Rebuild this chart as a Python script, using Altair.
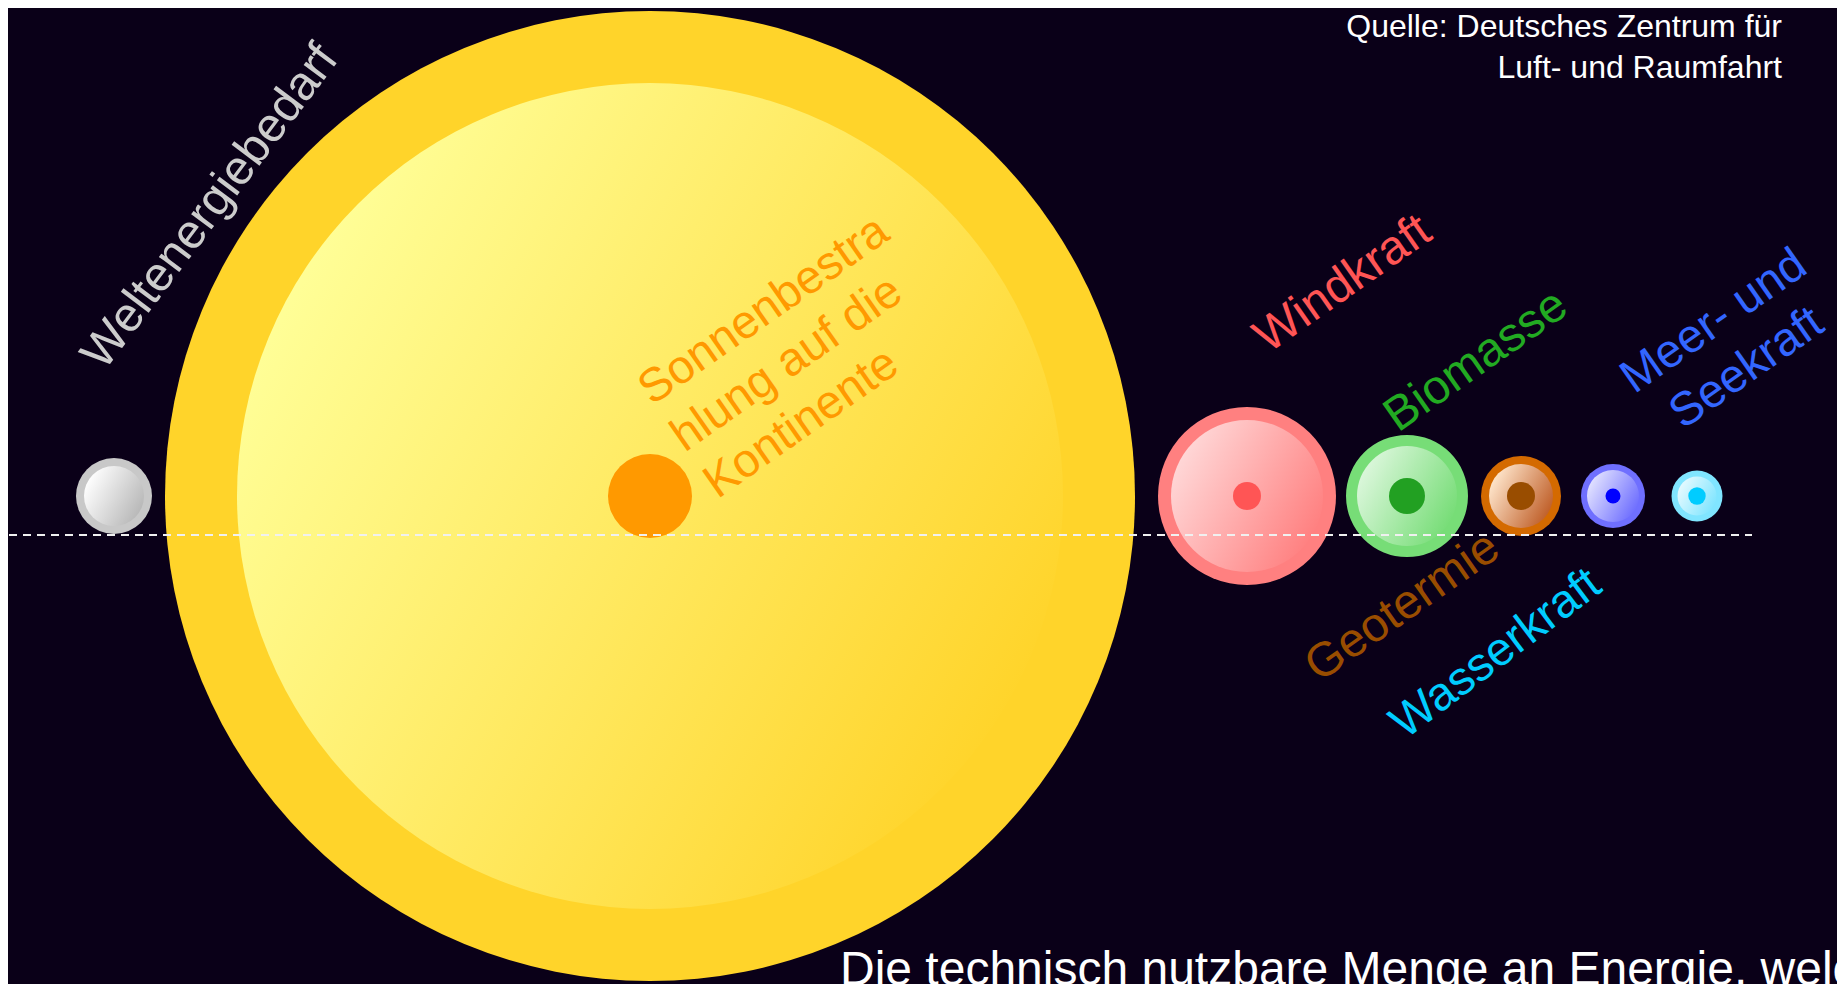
import altair as alt
import pandas as pd

# ---------------- data ----------------
bubble_names = ["Weltenergiebedarf", "Sonnenbestrahlung", "Windkraft", "Biomasse",
                "Geotermie", "Meer- und Seekraft", "Wasserkraft"]
center_x = [114, 650, 1247, 1407, 1521, 1613, 1697]
center_y = [496, 496, 496, 496, 496, 496, 496]
outer_r = [38, 485, 89, 61, 40, 32, 25.5]
inner_r = [30, 413, 76, 50, 32, 26, 19.5]
dot_r = [0, 42, 14, 18, 14, 7.5, 8.7]
ring_color = ["#c8c8c8", "#ffd42a", "#ff8080", "#77dd77", "#d46a00", "#6f6fff", "#80e5ff"]
light_color = ["#ffffff", "#ffff99", "#ffd8d8", "#dcf7dc", "#ffe6cc", "#e2e2ff", "#e6faff"]
dark_color = ["#b8b8b8", "#ffd42a", "#ff8080", "#77dd77", "#c0602a", "#6f6fff", "#80e5ff"]
dot_color = ["#ffffff", "#ff9900", "#ff5555", "#22a022", "#994d00", "#0000ff", "#00ccff"]

label_lines = [["Weltenergiebedarf"], ["Sonnenbestra", "hlung auf die", "Kontinente"],
               ["Windkraft"], ["Biomasse"], ["Geotermie"], ["Meer- und", "Seekraft"],
               ["Wasserkraft"]]
label_x = [104, 652, 1268, 1398, 1319, 1722, 1405]
label_y = [372, 406, 354, 433, 683, 333, 740]
label_angle = [307, 325, 325, 325, 325, 325, 323]
label_size = [48, 47, 48, 48, 48, 47, 47]
label_align = ["left", "left", "left", "left", "left", "center", "left"]
label_color = ["#cccccc", "#ff9900", "#ff5555", "#22aa22", "#994d00", "#3366ff", "#00ccff"]

source_lines = ["Quelle: Deutsches Zentrum für", "Luft- und Raumfahrt"]
bottom_text = "Die technisch nutzbare Menge an Energie, welche"

guide_x = [9]
guide_x2 = [1752]
guide_y = [535]

# ---------------- chart ----------------
W, H = 1829, 976
xs = alt.Scale(domain=[8, 8 + W], range=[0, W], nice=False, zero=False)
ys = alt.Scale(domain=[8, 8 + H], reverse=True, nice=False, zero=False)
FONT = "Liberation Sans"


def circle_layer(cx, cy, r, fill):
    # Vega circle symbols: size = diameter^2
    df = pd.DataFrame({"x": [cx], "y": [cy], "area": [(2 * r) ** 2]})
    return alt.Chart(df).mark_circle(fill=fill, opacity=1, fillOpacity=1, strokeWidth=0).encode(
        x=alt.X("x:Q", scale=xs, axis=None),
        y=alt.Y("y:Q", scale=ys, axis=None),
        size=alt.Size("area:Q", scale=None, legend=None),
    )


layers = []
for i, name in enumerate(bubble_names):
    layers.append(circle_layer(center_x[i], center_y[i], outer_r[i], ring_color[i]))
    grad = {
        "gradient": "linear",
        "x1": 0.1, "y1": 0.15, "x2": 1.0, "y2": 0.65,
        "stops": [{"offset": 0, "color": light_color[i]},
                  {"offset": 1, "color": dark_color[i]}],
    }
    layers.append(circle_layer(center_x[i], center_y[i], inner_r[i], grad))
    if dot_r[i] > 0:
        layers.append(circle_layer(center_x[i], center_y[i], dot_r[i], dot_color[i]))

guide_df = pd.DataFrame({"x": guide_x, "x2": guide_x2, "y": guide_y})
layers.append(
    alt.Chart(guide_df).mark_rule(color="#f0f0f0", strokeWidth=2, strokeDash=[8, 6]).encode(
        x=alt.X("x:Q", scale=xs, axis=None),
        x2="x2:Q",
        y=alt.Y("y:Q", scale=ys, axis=None),
    )
)

for i, lines in enumerate(label_lines):
    df = pd.DataFrame({"x": [label_x[i]], "y": [label_y[i]]})
    layers.append(
        alt.Chart(df).mark_text(
            text=lines if len(lines) > 1 else lines[0],
            angle=label_angle[i], align=label_align[i], baseline="alphabetic",
            font=FONT, fontSize=label_size[i], lineHeight=57, color=label_color[i],
        ).encode(
            x=alt.X("x:Q", scale=xs, axis=None),
            y=alt.Y("y:Q", scale=ys, axis=None),
        )
    )

src_df = pd.DataFrame({"x": [1782], "y": [37]})
layers.append(
    alt.Chart(src_df).mark_text(
        text=source_lines, align="right", baseline="alphabetic", font=FONT,
        fontSize=32, lineHeight=41, color="#ffffff",
    ).encode(x=alt.X("x:Q", scale=xs, axis=None), y=alt.Y("y:Q", scale=ys, axis=None))
)

bot_df = pd.DataFrame({"x": [840], "y": [985]})
layers.append(
    alt.Chart(bot_df).mark_text(
        text=bottom_text, align="left", baseline="alphabetic", font=FONT,
        fontSize=48, color="#ffffff",
    ).encode(x=alt.X("x:Q", scale=xs, axis=None), y=alt.Y("y:Q", scale=ys, axis=None))
)

chart = alt.layer(*layers).properties(
    width=W, height=H, padding=0, autosize="none", background="#0a0018"
).configure_view(stroke=None)

chart.save("out.html", embed_options={"renderer": "svg", "actions": False})
